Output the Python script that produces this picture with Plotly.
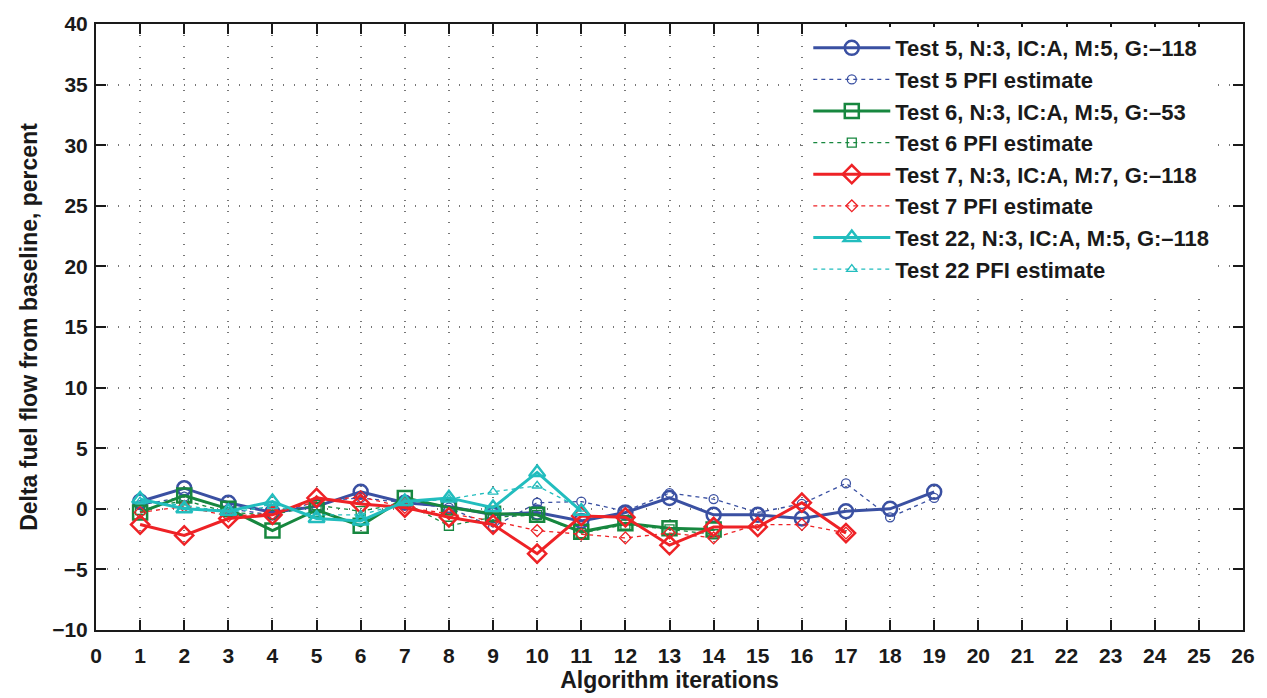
import plotly.graph_objects as go

# ---- data ----
iters5 = list(range(1, 20))
test5 = [0.6, 1.7, 0.5, -0.3, 0.2, 1.4, 0.5, 0.2, -0.5, -0.3, -1.0, -0.3, 0.9, -0.5, -0.5, -0.8, -0.2, 0.0, 1.4]
pfi5 = [0.3, 1.0, 0.0, -0.5, 0.6, 0.9, 0.5, 0.1, -1.5, 0.5, 0.6, -0.2, 1.3, 0.8, -0.3, 0.4, 2.1, -0.7, 0.9]

iters6 = list(range(1, 15))
test6 = [-0.3, 1.1, 0.0, -1.8, -0.1, -1.4, 0.9, 0.1, -0.4, -0.5, -1.9, -1.2, -1.6, -1.7]
pfi6 = [-0.1, 0.7, -0.3, -0.5, 0.3, -0.2, 0.5, -1.4, -0.7, -0.5, -2.0, -1.3, -1.7, -2.1]

iters7 = list(range(1, 18))
test7 = [-1.3, -2.2, -0.8, -0.5, 0.9, 0.4, 0.1, -0.7, -1.3, -3.7, -0.6, -0.7, -3.0, -1.5, -1.5, 0.5, -2.0]
pfi7 = [-0.3, 0.2, -0.6, -0.4, 0.6, 1.0, 0.1, -0.4, -1.0, -1.8, -2.1, -2.4, -2.0, -2.4, -1.3, -1.3, -2.0]

iters22 = list(range(1, 12))
test22 = [0.8, 0.0, -0.2, 0.6, -0.8, -1.0, 0.6, 0.9, 0.1, 3.0, -0.2]
pfi22 = [0.6, 0.3, -0.3, 0.2, -0.5, -0.5, 0.5, 0.8, 1.4, 1.9, 0.0]

names = [
    "Test 5, N:3, IC:A, M:5, G:\u2013118", "Test 5 PFI estimate",
    "Test 6, N:3, IC:A, M:5, G:\u201353", "Test 6 PFI estimate",
    "Test 7, N:3, IC:A, M:7, G:\u2013118", "Test 7 PFI estimate",
    "Test 22, N:3, IC:A, M:5, G:\u2013118", "Test 22 PFI estimate",
]

x_ticks = list(range(0, 27))
y_ticks = list(range(-10, 41, 5))

# ---- styles ----
BLUE = "#3A50A2"
GREEN = "#17873F"
RED = "#EE2226"
CYAN = "#22BDBE"

series = [
    (iters5, test5, pfi5, BLUE, "circle-open"),
    (iters6, test6, pfi6, GREEN, "square-open"),
    (iters7, test7, pfi7, RED, "diamond-open"),
    (iters22, test22, pfi22, CYAN, "triangle-up-open"),
]

fig = go.Figure()
for i, (xs, ys, ps, col, sym) in enumerate(series):
    fig.add_trace(go.Scatter(
        x=xs, y=ys, mode="lines+markers", name=names[2 * i],
        line=dict(color=col, width=3),
        marker=dict(symbol=sym, size=14, color=col, line=dict(width=2.5, color=col)),
    ))
    fig.add_trace(go.Scatter(
        x=xs, y=ps, mode="lines+markers", name=names[2 * i + 1],
        line=dict(color=col, width=1.3, dash="4px,4px"),
        marker=dict(symbol=sym, size=9, color=col, line=dict(width=1.3, color=col)),
    ))

FONT = "Liberation Sans, Arial, sans-serif"
TXT = "#1a1a1a"
axis_common = dict(
    showline=True, linecolor=TXT, linewidth=2, mirror="allticks",
    ticks="inside", ticklen=10, tickcolor=TXT, tickwidth=1.5,
    showgrid=True, gridcolor="#777", griddash="1px,10px", gridwidth=1.5,
    zeroline=False,
    tickfont=dict(family=FONT, size=21, color=TXT, weight="bold"),
)

fig.update_xaxes(
    range=[0, 26], tickmode="array", tickvals=x_ticks, ticklabelstandoff=6,
    title=dict(text="Algorithm iterations", font=dict(family=FONT, size=23, color=TXT, weight="bold"), standoff=1),
    **axis_common,
)
fig.update_yaxes(
    range=[-10, 40], tickmode="array", tickvals=y_ticks, ticklabelstandoff=2,
    title=dict(text="Delta fuel flow from baseline, percent", font=dict(family=FONT, size=23, color=TXT, weight="bold"), standoff=8),
    **axis_common,
)

fig.update_layout(
    width=1267, height=698,
    margin=dict(l=96, r=23, t=15, b=68),
    paper_bgcolor="white", plot_bgcolor="white",
    showlegend=True,
    legend=dict(
        x=0.621, y=0.995, xanchor="left", yanchor="top",
        bgcolor="white", borderwidth=0,
        font=dict(family=FONT, size=22, color=TXT, weight="bold"),
        itemwidth=77, tracegroupgap=0,
    ),
)

fig.write_html("out.html")
